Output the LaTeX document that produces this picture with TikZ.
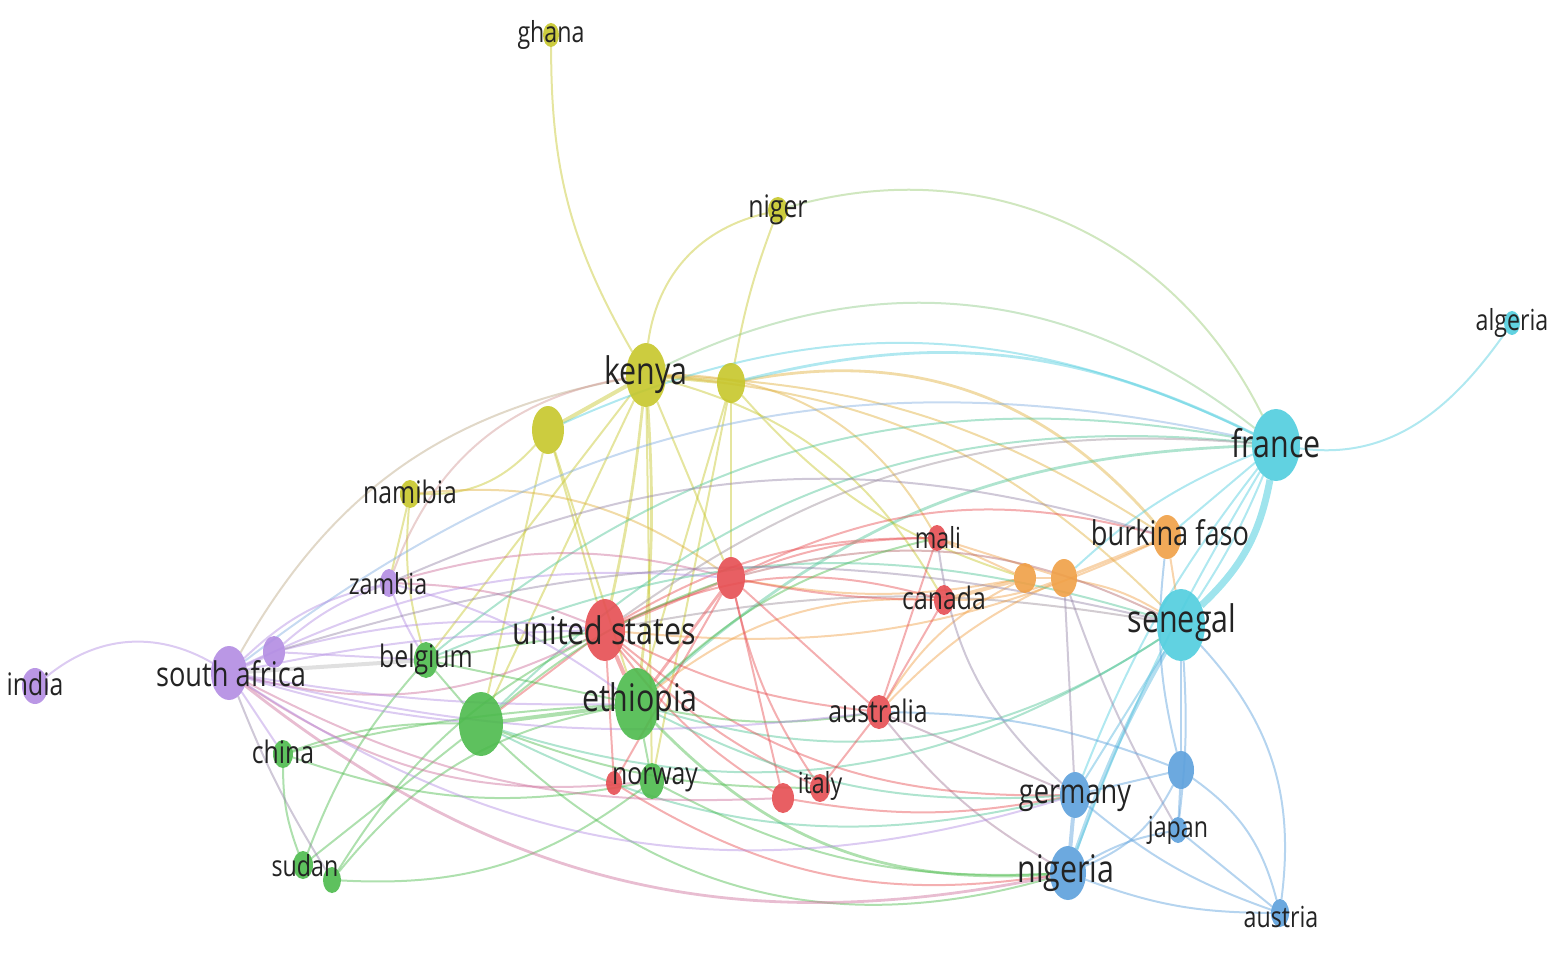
\documentclass[tikz,border=0pt]{standalone}
\usepackage{fontspec}
\setmainfont{Open Sans}
\usetikzlibrary{shapes.geometric}
\pgfdeclarelayer{edgelayer}
\pgfsetlayers{edgelayer,main}
\definecolor{cy}{RGB}{198,198,42}
\definecolor{cc}{RGB}{80,205,222}
\definecolor{co}{RGB}{240,160,70}
\definecolor{cr}{RGB}{230,78,82}
\definecolor{cg}{RGB}{76,186,76}
\definecolor{cp}{RGB}{178,140,226}
\definecolor{cb}{RGB}{92,160,220}
\definecolor{lbltxt}{RGB}{35,35,35}
\tikzset{
  vn/.style n args={3}{ellipse, inner sep=0pt, outer sep=0pt, fill=#1, opacity=0.9, minimum width=#2pt, minimum height=#3pt},
  lb/.style={text=lbltxt, inner sep=0pt, xscale=0.8},
  lxl/.style={lb, font=\fontsize{19}{19}\selectfont},
  lxm/.style={lb, font=\fontsize{17}{17}\selectfont},
  lxs/.style={lb, font=\fontsize{15.5}{15.5}\selectfont},
  lxt/.style={lb, font=\fontsize{14.5}{14.5}\selectfont},
  ed/.style={line width=1pt, opacity=0.45},
  ey/.style={ed, draw=cy},
  ec/.style={ed, draw=cc},
  eo/.style={ed, draw=co},
  er/.style={ed, draw=cr},
  eg/.style={ed, draw=cg},
  ep/.style={ed, draw=cp},
  eb/.style={ed, draw=cb},
  eyc/.style={ed, draw=cc!50!cy},
  egc/.style={ed, draw=cc!50!cg},
  epr/.style={ed, draw=cp!50!cr},
  epg/.style={ed, draw=cp!40!gray},
  eyo/.style={ed, draw=co!60!cy},
  thick2/.style={line width=2pt},
  thick1/.style={line width=1.4pt}
}
\begin{document}
\begin{tikzpicture}[x=0.5pt,y=-0.5pt]
\useasboundingbox (0,0) rectangle (1562,962);
% ---------- nodes ----------
\node[vn={cy}{8}{12}] (gha) at (551,35) {};
\node[vn={cy}{10}{13}] (nig) at (778,210) {};
\node[vn={cy}{20}{32}] (ken) at (646,375) {};
\node[vn={cy}{14}{20}] (y1) at (731,383) {};
\node[vn={cy}{16}{24}] (y2) at (548,430) {};
\node[vn={cy}{10}{14}] (nam) at (410,494) {};
\node[vn={cc}{8}{12}] (alg) at (1512,323) {};
\node[vn={cc}{24}{36}] (fra) at (1276,445) {};
\node[vn={co}{14}{22}] (bfa) at (1167,537) {};
\node[vn={co}{11}{15}] (o1) at (1025,578) {};
\node[vn={co}{13}{19}] (o2) at (1064,578) {};
\node[vn={cr}{9}{13}] (mal) at (937,538) {};
\node[vn={cr}{10}{15}] (can) at (944,600) {};
\node[vn={cr}{14}{21}] (r1) at (731,578) {};
\node[vn={cr}{20}{31}] (usa) at (605,630) {};
\node[vn={cc}{24}{36}] (sen) at (1181,625) {};
\node[vn={cp}{9}{14}] (zam) at (389,583) {};
\node[vn={cp}{11}{16}] (p1) at (274,652) {};
\node[vn={cp}{18}{27}] (saf) at (229,673) {};
\node[vn={cp}{13}{18}] (ind) at (35,686) {};
\node[vn={cg}{12}{18}] (bel) at (426,660) {};
\node[vn={cg}{22}{32}] (gb) at (481,724) {};
\node[vn={cg}{22}{36}] (eth) at (637,704) {};
\node[vn={cr}{12}{17}] (aus) at (879,712) {};
\node[vn={cg}{10}{14}] (chn) at (283,754) {};
\node[vn={cr}{8}{12}] (nor) at (614,783) {};
\node[vn={cg}{12}{18}] (nog) at (652,781) {};
\node[vn={cr}{11}{15}] (itr) at (783,798) {};
\node[vn={cr}{10}{14}] (ita) at (820,788) {};
\node[vn={cb}{15}{23}] (ger) at (1075,795) {};
\node[vn={cb}{13}{19}] (b1) at (1181,770) {};
\node[vn={cb}{9}{13}] (jap) at (1178,830) {};
\node[vn={cb}{18}{27}] (nga) at (1068,873) {};
\node[vn={cb}{9}{14}] (aut) at (1280,913) {};
\node[vn={cg}{10}{14}] (sud) at (303,865) {};
\node[vn={cg}{9}{13}] (sd2) at (332,880) {};
% ---------- edges ----------
\begin{pgfonlayer}{edgelayer}
% yellow cluster
\draw[ey] (gha) to[bend right=15] (ken);
\draw[ey] (nig) to[bend right=35] (ken);
\draw[ey] (nig) to[bend right=5] (y1);
\draw[ey,thick2] (ken) -- (y1);
\draw[ey,thick2] (ken) -- (y2);
\draw[ey] (y2) to[bend left=25] (nam);
\draw[ey] (nam) -- (zam);
\draw[ey] (nam) to[bend right=10] (bel);
\draw[ey,thick1] (ken) to[bend left=3] (usa);
\draw[ey,thick1] (ken) to[bend left=5] (eth);
\draw[ey] (ken) -- (gb);
\draw[ey] (ken) -- (nog);
\draw[ey] (ken) -- (bel);
\draw[ey] (ken) -- (r1);
\draw[ey] (y1) -- (r1);
\draw[ey] (y1) -- (eth);
\draw[ey] (y1) -- (nog);
\draw[ey] (y2) -- (usa);
\draw[ey] (y2) -- (gb);
\draw[ey] (y2) -- (eth);
\draw[eyo] (ken) to[bend left=30] (mal);
\draw[eyo,thick1] (y1) to[bend left=30] (bfa);
\draw[ey] (ken) to[bend left=22] (can);
\draw[ey] (y1) to[bend right=15] (o1);
\draw[eyo] (nam) to[bend left=20] (r1);
\draw[ed, draw=cp!50!cy] (ken) to[bend right=25] (saf);
\draw[ed, draw=cp!50!co] (ken) to[bend right=30] (zam);
\draw[eyc] (ken) to[bend left=32] (fra);
\draw[ed, draw=cc!40!cy] (nig) to[bend left=40] (fra);
\draw[ec,thick1] (y1) to[bend left=20] (fra);
\draw[ec] (y2) to[bend left=25] (fra);
\draw[eyo] (ken) to[bend left=20] (sen);
\draw[eyo] (ken) to[bend left=15] (bfa);
% cyan cluster
\draw[ec] (fra) to[out=-8, in=235] (alg);
\draw[ec, line width=3.5pt, opacity=0.55] (fra) to[bend left=18] (sen);
\draw[ec] (fra) to[bend left=5] (sen);
\draw[ec] (fra) -- (bfa);
\draw[ec] (fra) to[bend right=10] (o2);
\draw[ec] (fra) to[bend right=8] (ger);
\draw[ec] (fra) to[bend right=5] (nga);
\draw[egc] (gb) to[bend left=25] (fra);
\draw[egc,thick1] (eth) to[bend left=20] (fra);
\draw[egc] (bel) to[bend left=25] (fra);
\draw[ed, draw=cc!50!cr] (usa) to[bend left=20] (fra);
\draw[ed, draw=cc!50!cp] (saf) to[bend left=25] (fra);
\draw[egc] (eth) to[bend right=25] (sen);
\draw[egc] (gb) to[bend right=25] (sen);
\draw[ed, draw=cc!50!cr] (usa) to[bend left=10] (sen);
\draw[ed, draw=cc!50!cb] (sen) -- (ger);
\draw[ed, draw=cc!50!cb, thick2] (sen) to[bend right=5] (nga);
\draw[eb] (sen) -- (b1);
\draw[eb] (sen) to[bend left=5] (jap);
\draw[eb] (sen) to[bend left=25] (aut);
\draw[eo] (sen) to[bend right=10] (o2);
\draw[eo] (sen) -- (bfa);
% orange
\draw[eo,thick1] (bfa) -- (o2);
\draw[eo] (o2) -- (o1);
\draw[eo,thick2] (o1) -- (can);
\draw[eo] (o2) to[bend left=10] (can);
\draw[eo] (o2) -- (mal);
\draw[eo] (o1) -- (mal);
\draw[epg] (o2) to[bend right=5] (jap);
\draw[eo] (o1) to[bend right=15] (aus);
\draw[eo] (o1) to[bend left=10] (r1);
\draw[eo] (bfa) to[bend left=15] (usa);
\draw[eo] (o2) to[bend right=10] (aus);
\draw[eo] (can) to[bend right=20] (eth);
% red
\draw[er,thick1] (usa) -- (r1);
\draw[er] (usa) to[bend left=15] (mal);
\draw[er] (r1) to[bend left=10] (mal);
\draw[er] (r1) to[bend right=5] (can);
\draw[er] (r1) -- (aus);
\draw[er] (r1) -- (itr);
\draw[er] (r1) -- (nor);
\draw[er] (usa) to[bend right=10] (aus);
\draw[er] (usa) -- (nor);
\draw[er] (usa) to[bend right=10] (itr);
\draw[er] (usa) to[bend right=10] (ita);
\draw[er] (aus) -- (ita);
\draw[er] (aus) -- (mal);
\draw[er] (aus) -- (can);
\draw[er] (itr) to[bend right=10] (ger);
\draw[ed, draw=cr!50!cb] (aus) -- (ger);
\draw[ed, draw=cr!50!cb] (aus) to[bend right=10] (nga);
\draw[er] (usa) to[bend right=20] (ger);
\draw[er] (nor) to[bend right=20] (nga);
\draw[ed, draw=cr!50!gray] (r1) to[bend left=20] (sen);
\draw[er,thick1] (eth) -- (r1);
\draw[er,thick2] (usa) -- (eth);
\draw[er] (usa) -- (gb);
\draw[epr] (zam) to[bend left=15] (r1);
\draw[epr] (zam) to[bend left=10] (usa);
\draw[epr] (saf) to[bend right=20] (usa);
\draw[er] (usa) to[bend left=20] (can);
\draw[er] (r1) to[bend left=20] (bfa);
\draw[er] (r1) to[bend right=10] (ita);
% green
\draw[eg,thick2] (gb) -- (eth);
\draw[eg] (bel) -- (gb);
\draw[eg] (bel) -- (eth);
\draw[eg] (bel) -- (usa);
\draw[eg] (chn) to[bend left=10] (gb);
\draw[eg] (chn) to[bend left=5] (eth);
\draw[eg] (chn) to[bend right=10] (sud);
\draw[eg] (sud) -- (gb);
\draw[eg] (sud) to[bend left=10] (bel);
\draw[eg] (sd2) to[bend left=20] (eth);
\draw[eg] (sd2) to[bend right=20] (nog);
\draw[eg] (sd2) to[bend left=15] (usa);
\draw[eg] (eth) -- (nog);
\draw[eg,thick1] (eth) to[bend right=25] (nga);
\draw[eg] (gb) to[bend right=30] (nga);
\draw[egc] (eth) to[bend right=15] (ger);
\draw[egc] (gb) to[bend right=20] (ger);
\draw[eg] (nog) to[bend right=15] (nga);
\draw[eg] (eth) to[bend right=10] (aus);
\draw[eg] (gb) to[bend right=10] (ita);
\draw[eg] (eth) to[bend left=15] (mal);
\draw[egc] (bel) to[bend left=20] (sen);
\draw[eg] (chn) to[bend right=15] (nog);
\draw[eg] (gb) to[bend left=10] (r1);
% purple
\draw[ep] (ind) to[bend left=35] (saf);
\draw[ep,thick2] (saf) -- (p1);
\draw[ep] (saf) to[bend left=15] (zam);
\draw[ep] (p1) to[bend left=10] (zam);
\draw[ed, draw=gray!70, thick2, opacity=0.35] (saf) -- (bel);
\draw[ep] (saf) to[bend left=5] (usa);
\draw[ep] (saf) to[bend right=5] (eth);
\draw[ep] (saf) to[bend right=5] (gb);
\draw[ep] (saf) -- (chn);
\draw[epr] (saf) to[bend right=20] (nog);
\draw[ep] (saf) to[bend right=25] (ger);
\draw[epr,thick1] (saf) to[bend right=25] (nga);
\draw[epr] (saf) to[bend right=15] (itr);
\draw[ep] (saf) to[bend right=10] (aus);
\draw[ep] (saf) to[bend left=15] (r1);
\draw[ep] (p1) to[bend left=10] (usa);
\draw[ep] (p1) -- (bel);
\draw[ep] (zam) to[bend left=10] (eth);
\draw[ep] (zam) to[bend right=5] (bel);
\draw[epg] (saf) to[bend right=5] (sd2);
\draw[epg] (zam) to[bend left=20] (bfa);
\draw[epg] (p1) to[bend left=15] (sen);
% blue
\draw[eb,thick2] (ger) -- (nga);
\draw[eb] (ger) -- (b1);
\draw[eb] (ger) to[bend right=10] (aut);
\draw[eb] (b1) -- (jap);
\draw[eb] (b1) to[bend left=20] (aut);
\draw[eb] (nga) to[bend left=10] (jap);
\draw[eb] (nga) to[bend right=10] (aut);
\draw[eb] (jap) -- (aut);
\draw[eb] (b1) to[bend left=20] (nga);
\draw[eb] (bfa) to[bend right=10] (b1);
\draw[epg] (o2) -- (ger);
\draw[epg] (mal) to[bend right=20] (ger);
\draw[eb] (aus) to[bend left=10] (b1);
\end{pgfonlayer}
% ---------- labels ----------
\node[lxt] (gha-l) at (551,35) {ghana};
\node[lxs] (nig-l) at (778,210) {niger};
\node[lxl] (ken-l) at (646,375) {kenya};
\node[lxs] (nam-l) at (410,492) {namibia};
\node[lxt] (alg-l) at (1512,323) {algeria};
\node[lxl] (fra-l) at (1276,443) {france};
\node[lxm] (bfa-l) at (1170,533) {burkina faso};
\node[lxt] (mal-l) at (938,538) {mali};
\node[lxs] (can-l) at (944,598) {canada};
\node[lxl] (usa-l) at (604,630) {united states};
\node[lxl] (sen-l) at (1182,623) {senegal};
\node[lxt] (zam-l) at (388,584) {zambia};
\node[lxm] (saf-l) at (231,674) {south africa};
\node[lxs] (ind-l) at (35,684) {india};
\node[lxs] (bel-l) at (426,659) {belgium};
\node[lxl] (eth-l) at (640,702) {ethiopia};
\node[lxs] (aus-l) at (878,711) {australia};
\node[lxs] (chn-l) at (283,752) {china};
\node[lxs] (nor-l) at (655,780) {norway};
\node[lxt] (ita-l) at (820,786) {italy};
\node[lxm] (ger-l) at (1075,798) {germany};
\node[lxt] (jap-l) at (1178,830) {japan};
\node[lxl] (nga-l) at (1066,873) {nigeria};
\node[lxt] (aut-l) at (1281,917) {austria};
\node[lxt] (sud-l) at (305,866) {sudan};
\end{tikzpicture}
\end{document}
